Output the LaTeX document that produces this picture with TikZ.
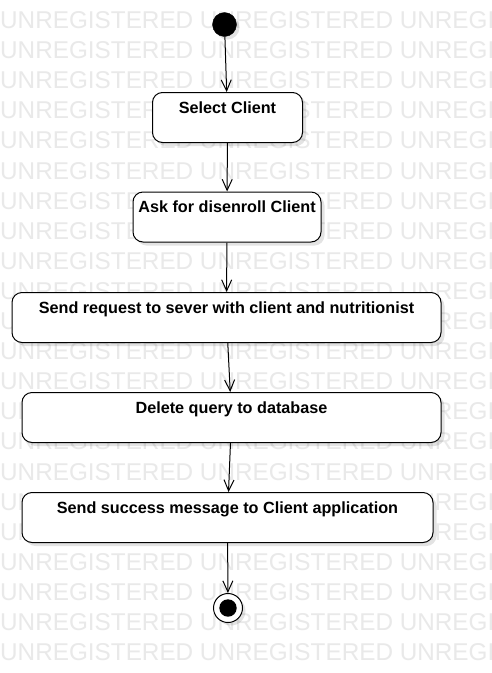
\documentclass[tikz,border=0pt]{standalone}
\usepackage{fontspec}
\setmainfont{Liberation Sans}
\usetikzlibrary{arrows.meta,shadows}
\pgfdeclarelayer{marklayer}
\pgfdeclarelayer{nodelayer}
\pgfdeclarelayer{edgelayer}
\pgfsetlayers{marklayer,edgelayer,nodelayer,main}
\definecolor{markgray}{RGB}{233,233,233}
\tikzstyle{watermark}=[text=markgray, inner sep=0pt, anchor=base west, font=\fontsize{24.3}{28}\selectfont]
\tikzstyle{action}=[fill=white, draw=black, line width=1pt, rounded corners=10pt, minimum height=50pt, inner ysep=0pt, text height=20.8pt, text depth=29.2pt, font=\bfseries\fontsize{16.2}{19}\selectfont, drop shadow={shadow xshift=3.5pt, shadow yshift=-3.5pt, fill=black, opacity=0.11}]
\tikzstyle{start state}=[fill=black, draw=black, shape=circle, inner sep=0pt, minimum size=24pt, drop shadow={shadow xshift=3pt, shadow yshift=-3pt, fill=black, opacity=0.11}]
\tikzstyle{end state}=[fill=white, draw=black, line width=1pt, shape=circle, inner sep=0pt, minimum size=29pt, path picture={\fill[black] (path picture bounding box.center) circle (8.7pt);}, drop shadow={shadow xshift=3pt, shadow yshift=-3pt, fill=black, opacity=0.11}]
\tikzstyle{flow edge}=[draw=black, line width=1pt, -{Straight Barb[length=11pt, width=10pt]}]

\begin{document}
\begin{tikzpicture}[x=1pt, y=-1pt]
	\useasboundingbox (0,0) rectangle (491,673);
	\begin{pgfonlayer}{marklayer}
		\fill[white] (0,0) rectangle (491,673);
		\clip (0,0) rectangle (491,673);
		\foreach \k in {0,...,21}
			\node [style=watermark] (w\k) at (0, {28.5+30.1*\k}) {UNREGISTERED UNREGISTERED UNREGISTERED};
	\end{pgfonlayer}
	\begin{pgfonlayer}{nodelayer}
		\node [style=start state] (0) at (224.5, 24.5) {};
		\node [style=action, minimum width=150pt] (1) at (227.5, 117.5) {Select Client};
		\node [style=action, minimum width=188pt] (2) at (227, 217) {Ask for disenroll Client};
		\node [style=action, minimum width=429pt] (3) at (226.5, 317.5) {Send request to sever with client and nutritionist};
		\node [style=action, minimum width=419pt] (4) at (231.5, 417.5) {Delete query to database};
		\node [style=action, minimum width=411pt] (5) at (227.5, 517.5) {Send success message to Client application};
		\node [style=end state] (6) at (228, 608) {};
	\end{pgfonlayer}
	\begin{pgfonlayer}{edgelayer}
		\draw [style=flow edge] (0) to (1);
		\draw [style=flow edge] (1) to (2);
		\draw [style=flow edge] (2) to (3);
		\draw [style=flow edge] (3) to (4);
		\draw [style=flow edge] (4) to (5);
		\draw [style=flow edge] (5) to (6);
	\end{pgfonlayer}
\end{tikzpicture}
\end{document}
